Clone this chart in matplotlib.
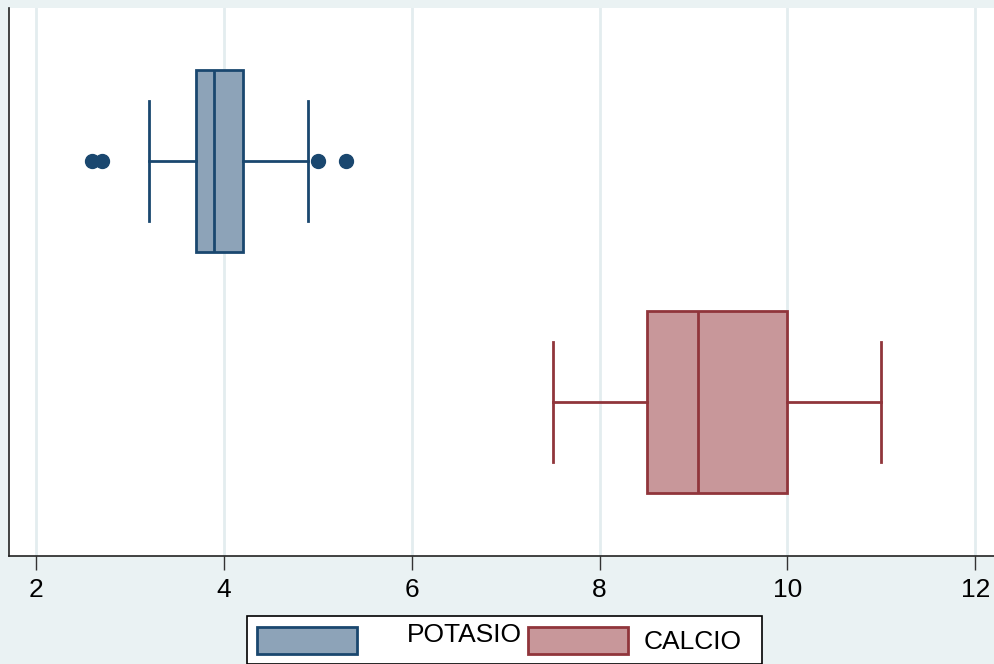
import matplotlib.pyplot as plt
from matplotlib.patches import Rectangle

# box plot summary values
groups = ["POTASIO", "CALCIO"]
whislo = [3.2, 7.5]
q1 = [3.7, 8.5]
med = [3.9, 9.05]
q3 = [4.2, 10.0]
whishi = [4.9, 11.0]
fliers = [[2.6, 2.7, 5.0, 5.3], []]
xticks = [2, 4, 6, 8, 10, 12]

edge_cols = ["#1a476f", "#90353b"]
fill_cols = ["#8da3b8", "#c8979a"]
bg = "#eaf2f3"

plt.rcParams['font.family'] = ['Liberation Sans', 'DejaVu Sans']

fig = plt.figure(figsize=(9.95, 6.64), dpi=100, facecolor=bg)
W, H = 995, 664
# plot region runs off the right edge, like the original
ax = fig.add_axes([9 / W, 1 - 556 / H, 1 - 9 / W, (556 - 8) / H])
ax.set_facecolor("white")

positions = [2, 1]
for i in range(len(groups)):
    st = [dict(whislo=whislo[i], q1=q1[i], med=med[i], q3=q3[i],
               whishi=whishi[i], fliers=fliers[i], label=groups[i])]
    c = edge_cols[i]
    ax.bxp(st, positions=[positions[i]], vert=False, widths=0.755,
           patch_artist=True, showfliers=True,
           boxprops=dict(facecolor=fill_cols[i], edgecolor=c, linewidth=2),
           medianprops=dict(color=c, linewidth=2),
           whiskerprops=dict(color=c, linewidth=2),
           capprops=dict(color=c, linewidth=2),
           capwidths=0.5,
           flierprops=dict(marker='o', markerfacecolor=c, markeredgecolor=c,
                           markersize=10),
           zorder=3)

ax.set_xlim(1.713, 12.21)
ax.set_ylim(0.361, 2.635)
ax.set_xticks(xticks)
ax.set_xticklabels([str(t) for t in xticks])
ax.set_yticks([])
ax.grid(axis='x', color="#e3edef", linewidth=2, zorder=0)
ax.tick_params(axis='x', length=10, width=1, color="#333333", labelsize=19,
               pad=6)
for s in ["top", "right"]:
    ax.spines[s].set_visible(False)
for s in ["left", "bottom"]:
    ax.spines[s].set_linewidth(1.2)
    ax.spines[s].set_color("#222222")

# hand-built legend, placed like the Stata one
lx0, ly0 = 247, 616
fig.patches.append(Rectangle((lx0 / W, 0), (762 - lx0) / W, 1 - ly0 / H + 0.0,
                             transform=fig.transFigure, facecolor="white",
                             edgecolor="black", linewidth=1.2))
handle_x = [257, 528]
text_x = [407, 644]
text_y = [635, 642]
for i in range(len(groups)):
    fig.patches.append(Rectangle((handle_x[i] / W, 1 - 654 / H), 100 / W, 27 / H,
                                 transform=fig.transFigure,
                                 facecolor=fill_cols[i], edgecolor=edge_cols[i],
                                 linewidth=2))
    fig.text(text_x[i] / W, 1 - text_y[i] / H, groups[i], fontsize=19,
             ha='left', va='center')

fig.savefig("out.png", dpi=100, facecolor=bg)
